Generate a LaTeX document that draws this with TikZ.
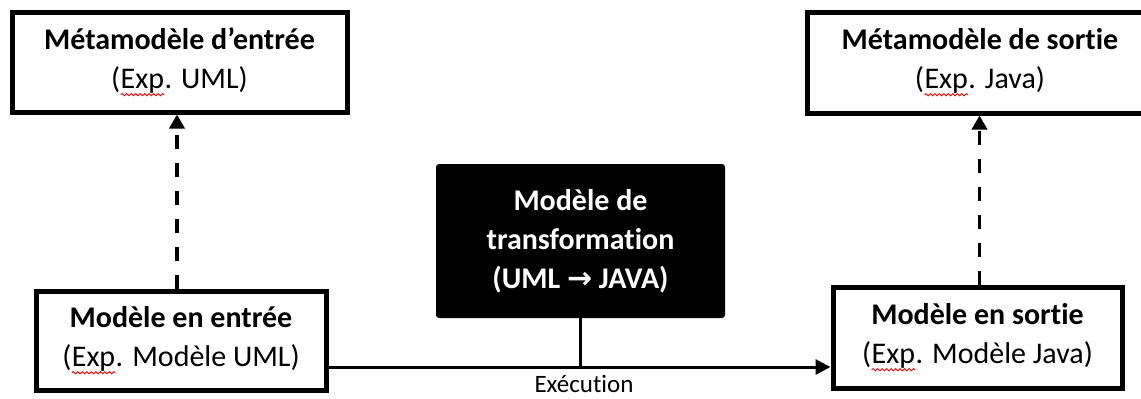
\documentclass[tikz,border=0pt]{standalone}
\usepackage{fontspec}
\setmainfont{Carlito}[Ligatures=NoCommon]
\newfontfamily\symfont{DejaVu Sans}
\usetikzlibrary{arrows.meta,decorations.pathmorphing}
\newcommand\splerr[1]{\tikz[baseline=(w.base),x=1pt,y=1pt]{%
  \node[draw=none,fill=none,inner sep=0pt,outer sep=0pt,minimum width=0pt,minimum height=0pt,text=black] (w) {#1};%
  \draw[draw=red,line width=0.9pt,solid,decorate,decoration={snake,amplitude=1.1pt,segment length=4.5pt}]
    ([yshift=-6pt]w.base west) -- ([yshift=-6pt]w.base east);}}
\begin{document}
\begin{tikzpicture}[x=1pt,y=-1pt,
  box/.style={draw=black, line width=5pt, fill=white, align=center,
    font=\fontsize{30}{39}\selectfont, inner sep=0pt},
  tbox/.style={fill=black, rounded corners=3pt, align=center, text=white,
    font=\fontsize{30}{39}\selectfont\bfseries, inner sep=0pt},
  dashconn/.style={line width=3.5pt, dash pattern=on 14pt off 14pt,
    -{Triangle[length=14pt,width=15pt]}},
  conn/.style={line width=3pt},
  arrconn/.style={line width=3pt, -{Triangle[length=15pt,width=15pt]}},
  lbl/.style={font=\fontsize{25}{30}\selectfont, inner sep=0pt, anchor=base}
]
\useasboundingbox (0,0) rectangle (1141,399);
\clip (0,0) rectangle (1141,399);
\fill[white] (0,0) rectangle (1141,399);

\node[box, minimum width=335pt, minimum height=100pt] (b1) at (179.5,62)
  {\textbf{Métamodèle d’entrée}\\(\splerr{Exp}. UML)};
\node[box, minimum width=346pt, minimum height=101pt] (b2) at (980,62.5)
  {\textbf{Métamodèle de sortie}\\(\splerr{Exp}. Java)};
\node[box, minimum width=290pt, minimum height=99pt] (b3) at (181,340.5)
  {\textbf{Modèle en entrée}\\(\splerr{Exp}. Modèle UML)};
\node[box, minimum width=289pt, minimum height=101pt] (b4) at (977.5,337.5)
  {\textbf{Modèle en sortie}\\(\splerr{Exp}. Modèle Java)};
\node[tbox, minimum width=289pt, minimum height=154pt] (t) at (580.5,241)
  {Modèle de\\transformation\\(UML {\symfont\bfseries →} JAVA)};

\coordinate (j) at (t.south |- 0,367);
\draw[dashconn] ([xshift=-4pt]b3.north) -- ([xshift=-4pt]b3.north |- b1.south);
\draw[dashconn] ([xshift=2pt]b4.north) -- ([xshift=2pt]b4.north |- b2.south);
\draw[conn] (t.south) -- (j);
\draw[arrconn] (b3.east |- j) -- (b4.west |- j);
\node[lbl] (ex) at (584,392) {Exécution};
\end{tikzpicture}
\end{document}
